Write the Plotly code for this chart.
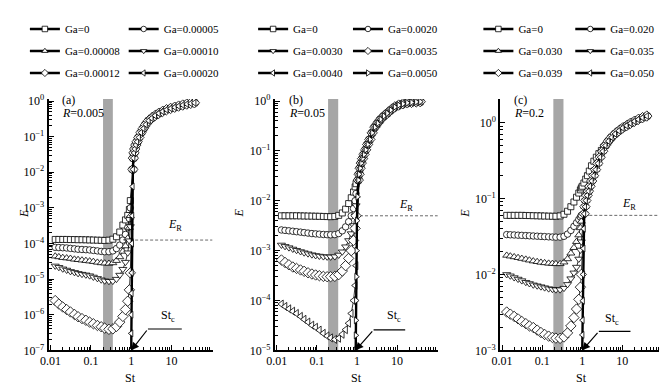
import math
import plotly.graph_objects as go

W, H = 667, 389
FONT = "Liberation Serif, Times New Roman, serif"

# ---------------- data ----------------
ST_LEFT = [0.013, 0.016, 0.02, 0.025, 0.031, 0.039, 0.048, 0.06, 0.075, 0.093, 0.115,
           0.145, 0.18, 0.22, 0.28, 0.35, 0.43, 0.52, 0.62, 0.72, 0.82, 0.9, 0.95]

# panel (a), R = 0.005
GA_A = ["Ga=0", "Ga=0.00005", "Ga=0.00008", "Ga=0.00010", "Ga=0.00012", "Ga=0.00020"]
E_A0_L = [1.30e-4, 1.30e-4, 1.30e-4, 1.30e-4, 1.29e-4, 1.29e-4, 1.28e-4, 1.28e-4, 1.27e-4, 1.26e-4, 1.25e-4,
          1.24e-4, 1.23e-4, 1.22e-4, 1.24e-4, 1.32e-4, 1.55e-4, 2.1e-4, 3.3e-4, 4.6e-4, 6.2e-4, 9.0e-4, 1.6e-3]
E_A1_L = [7.8e-5, 7.7e-5, 7.6e-5, 7.5e-5, 7.3e-5, 7.1e-5, 6.9e-5, 6.8e-5, 6.7e-5, 6.6e-5, 6.4e-5,
          6.2e-5, 6.0e-5, 5.9e-5, 5.9e-5, 6.2e-5, 7.2e-5, 9.0e-5, 1.25e-4, 1.8e-4, 2.8e-4, 5.0e-4, 1.0e-3]
E_A2_L = [4.4e-5, 4.2e-5, 4.0e-5, 3.9e-5, 3.8e-5, 3.6e-5, 3.5e-5, 3.4e-5, 3.3e-5, 3.2e-5, 3.1e-5,
          2.95e-5, 2.85e-5, 2.8e-5, 2.75e-5, 2.85e-5, 3.3e-5, 4.2e-5, 6.0e-5, 8.5e-5, 1.4e-4, 2.8e-4, 6.0e-4]
E_A3_L = [2.35e-5, 2.15e-5, 1.95e-5, 1.8e-5, 1.65e-5, 1.55e-5, 1.45e-5, 1.38e-5, 1.32e-5, 1.25e-5, 1.15e-5,
          1.05e-5, 9.6e-6, 9.0e-6, 8.7e-6, 8.8e-6, 1.0e-5, 1.3e-5, 1.9e-5, 3.0e-5, 5.5e-5, 1.2e-4, 3.0e-4]
E_A4_L = [2.5e-6, 2.0e-6, 1.65e-6, 1.4e-6, 1.2e-6, 1.02e-6, 8.8e-7, 7.8e-7, 7.0e-7, 6.2e-7, 5.6e-7,
          5.0e-7, 4.6e-7, 4.2e-7, 3.9e-7, 4.0e-7, 4.7e-7, 6.2e-7, 9.0e-7, 1.4e-6, 2.4e-6, 5.0e-6, 1.5e-5]
ST_STEEP_A = [1.0, 1.005, 1.01, 1.02, 1.03, 1.045, 1.06, 1.08]
E_STEEP_A = [1e-7, 3e-7, 1e-6, 4e-6, 1.5e-5, 1e-4, 6e-4, 4e-3]
ST_UP_A = [1.1, 1.13, 1.17, 1.22, 1.3, 1.4, 1.55, 1.75, 2.0, 2.3, 2.7, 3.2, 3.9, 4.8, 6.0, 7.5, 9.5,
           12, 15, 19, 24, 30, 37]
E_UP_A = [0.012, 0.025, 0.035, 0.045, 0.058, 0.072, 0.095, 0.13, 0.17, 0.22, 0.28, 0.33, 0.39, 0.45,
          0.51, 0.57, 0.62, 0.67, 0.72, 0.77, 0.82, 0.86, 0.89]
ER_A = 1.25e-4

# panel (b), R = 0.05
GA_B = ["Ga=0", "Ga=0.0020", "Ga=0.0030", "Ga=0.0035", "Ga=0.0040", "Ga=0.0050"]
E_B0_L = [5.0e-3, 5.0e-3, 5.0e-3, 5.0e-3, 5.0e-3, 4.98e-3, 4.96e-3, 4.94e-3, 4.92e-3, 4.9e-3, 4.88e-3,
          4.85e-3, 4.82e-3, 4.8e-3, 4.85e-3, 5.1e-3, 5.7e-3, 6.8e-3, 8.8e-3, 1.15e-2, 1.5e-2, 1.9e-2, 2.2e-2]
E_B1_L = [2.6e-3, 2.55e-3, 2.5e-3, 2.45e-3, 2.4e-3, 2.35e-3, 2.3e-3, 2.25e-3, 2.2e-3, 2.17e-3, 2.14e-3,
          2.11e-3, 2.09e-3, 2.08e-3, 2.1e-3, 2.2e-3, 2.5e-3, 3.0e-3, 3.8e-3, 5.0e-3, 7.0e-3, 1.0e-2, 1.4e-2]
E_B2_L = [1.3e-3, 1.22e-3, 1.15e-3, 1.08e-3, 1.02e-3, 9.6e-4, 9.1e-4, 8.7e-4, 8.3e-4, 8.0e-4, 7.8e-4,
          7.6e-4, 7.5e-4, 7.5e-4, 7.6e-4, 8.2e-4, 9.5e-4, 1.2e-3, 1.6e-3, 2.2e-3, 3.2e-3, 5.0e-3, 8.0e-3]
E_B3_L = [6.5e-4, 5.8e-4, 5.2e-4, 4.7e-4, 4.4e-4, 4.1e-4, 3.85e-4, 3.6e-4, 3.4e-4, 3.25e-4, 3.15e-4,
          3.05e-4, 3.0e-4, 3.0e-4, 3.05e-4, 3.3e-4, 3.9e-4, 5.0e-4, 7.0e-4, 1.0e-3, 1.6e-3, 2.8e-3, 5.0e-3]
E_B4_L = [8.5e-5, 7.6e-5, 6.8e-5, 6.1e-5, 5.5e-5, 4.8e-5, 4.2e-5, 3.7e-5, 3.2e-5, 2.9e-5, 2.55e-5,
          2.2e-5, 1.95e-5, 1.78e-5, 1.66e-5, 1.75e-5, 2.1e-5, 2.6e-5, 3.5e-5, 5.5e-5, 1.0e-4, 2.0e-4, 5.0e-4]
ST_STEEP_B = [0.93, 0.935, 0.94, 0.95, 0.965, 0.98, 1.0, 1.03]
E_STEEP_B = [1e-5, 2e-5, 4e-5, 1e-4, 3e-4, 1e-3, 4e-3, 1.2e-2]
ST_UP_B = [1.08, 1.13, 1.2, 1.28, 1.38, 1.5, 1.65, 1.85, 2.1, 2.4, 2.8, 3.3, 3.9, 4.7, 5.7, 7.0, 8.8,
           11, 14, 18, 23, 30, 38]
E_UP_B = [0.026, 0.034, 0.045, 0.057, 0.07, 0.085, 0.105, 0.135, 0.17, 0.23, 0.3, 0.36, 0.43, 0.5,
          0.57, 0.66, 0.76, 0.83, 0.88, 0.92, 0.94, 0.96, 0.97]
ER_B = 5.0e-3

# panel (c), R = 0.2
GA_C = ["Ga=0", "Ga=0.020", "Ga=0.030", "Ga=0.035", "Ga=0.039", "Ga=0.050"]
E_C0_L = [0.060, 0.060, 0.060, 0.060, 0.060, 0.0598, 0.0596, 0.0594, 0.0592, 0.059, 0.0588,
          0.0586, 0.0584, 0.0584, 0.059, 0.062, 0.068, 0.078, 0.09, 0.104, 0.118, 0.13, 0.138]
ST_C0_R = [1.0, 1.1, 1.22, 1.35, 1.5, 1.7, 1.95, 2.25, 2.6, 3.0, 3.4]
E_C0_R = [0.145, 0.16, 0.18, 0.2, 0.23, 0.27, 0.31, 0.35, 0.39, 0.43, 0.47]
E_C1_L = [0.0335, 0.0333, 0.0331, 0.0329, 0.0327, 0.0325, 0.0323, 0.0321, 0.0319, 0.0317, 0.0315,
          0.0313, 0.0311, 0.031, 0.031, 0.0318, 0.034, 0.038, 0.043, 0.048, 0.053, 0.057, 0.06]
E_C2_L = [0.0178, 0.0174, 0.017, 0.0166, 0.0162, 0.0158, 0.0154, 0.015, 0.0147, 0.0144, 0.0142,
          0.014, 0.0139, 0.0138, 0.0138, 0.0145, 0.016, 0.019, 0.0225, 0.027, 0.033, 0.041, 0.05]
E_C3_L = [0.0100, 0.0096, 0.0091, 0.0087, 0.0083, 0.0079, 0.0076, 0.0073, 0.0071, 0.0069, 0.0067,
          0.0065, 0.0064, 0.0063, 0.0063, 0.0066, 0.0074, 0.0088, 0.0105, 0.0125, 0.016, 0.021, 0.027]
E_C4_L = [0.0032, 0.0030, 0.0028, 0.0026, 0.0024, 0.00225, 0.0021, 0.0020, 0.00185, 0.00172, 0.00162,
          0.00154, 0.00148, 0.00145, 0.00144, 0.0015, 0.0017, 0.0021, 0.0027, 0.0035, 0.0047, 0.0068, 0.010]
ST_STEEP_C = [1.0, 1.01, 1.02, 1.035, 1.05, 1.07, 1.09]
E_STEEP_C = [1e-3, 1.6e-3, 2.5e-3, 4.5e-3, 0.01, 0.022, 0.04]
ST_UP_C = [1.12, 1.17, 1.23, 1.32, 1.43, 1.56, 1.72, 1.92, 2.15, 2.45, 2.8, 3.25, 3.8, 4.5, 5.4,
           6.6, 8.2, 10.2, 12.8, 16, 20, 25, 32, 41]
E_UP_C = [0.063, 0.078, 0.094, 0.11, 0.125, 0.145, 0.17, 0.2, 0.24, 0.29, 0.35, 0.42, 0.5, 0.57,
          0.64, 0.71, 0.78, 0.85, 0.91, 0.98, 1.04, 1.1, 1.16, 1.22]
ER_C = 0.06

X_TICKS = [0.01, 0.1, 1, 10]
X_TICKTEXT = ["0.01", "0.1", "1", "10"]

# ---------------- helpers ----------------
def pxx(p):
    return p / W


def pxy(p):
    return 1 - p / H


def ylabels(lo, hi):
    vals = [10.0 ** k for k in range(lo, hi + 1)]
    txt = ["10<sup>%s</sup>" % (str(k).replace("-", "\u2212")) for k in range(lo, hi + 1)]
    return vals, txt


def minor_vals(lo, hi):
    out = []
    for d in range(lo, hi + 1):
        for k in range(2, 10):
            out.append(k * 10.0 ** d)
    return out


SYMS_A = ["square", "circle", "triangle-up", "triangle-down", "diamond", "triangle-left"]
SYMS_B = ["square", "circle", "triangle-down", "diamond", "triangle-left", "triangle-right"]
SYMS_C = ["square", "circle", "triangle-up", "triangle-down", "diamond", "triangle-left"]
SIZES = {"square": 6, "circle": 6.5, "triangle-up": 7, "triangle-down": 7, "diamond": 8,
         "triangle-left": 7, "triangle-right": 7}
TXT = dict(family=FONT, size=12, color="black")
LEG_TXT = dict(family=FONT, size=11, color="black")

panels = [
    dict(k="a", xa="x", ya="y", names=GA_A, syms=SYMS_A,
         curves=[(ST_LEFT + ST_UP_A, E_A0_L + E_UP_A),
                 (ST_LEFT + ST_UP_A, E_A1_L + E_UP_A),
                 (ST_LEFT + ST_UP_A, E_A2_L + E_UP_A),
                 (ST_LEFT + ST_UP_A, E_A3_L + E_UP_A),
                 (ST_LEFT + ST_UP_A, E_A4_L + E_UP_A),
                 (ST_STEEP_A + ST_UP_A, E_STEEP_A + E_UP_A)],
         xdom=(33, 199), yr=(-7, 0.055), ylo=-7, yhi=0, er=ER_A, er_x0=1.25, band=(0.2, 0.35),
         er_lab=(12.2, 15), stc=dict(head=(0.0, -7.0), tail=(2.6, -6.40), end=18.0, txt=(8.2, -6.04)),
         lab="(a)", R="0.005", ttl_x=8, legx=(9, 109)),
    dict(k="b", xa="x2", ya="y2", names=GA_B, syms=SYMS_B,
         curves=[(ST_LEFT + ST_UP_B, E_B0_L + E_UP_B),
                 (ST_LEFT + ST_UP_B, E_B1_L + E_UP_B),
                 (ST_LEFT + ST_UP_B, E_B2_L + E_UP_B),
                 (ST_LEFT + ST_UP_B, E_B3_L + E_UP_B),
                 (ST_LEFT + ST_UP_B, E_B4_L + E_UP_B),
                 (ST_STEEP_B + ST_UP_B, E_STEEP_B + E_UP_B)],
         xdom=(262, 427), yr=(-5, 0.04), ylo=-5, yhi=0, er=ER_B, er_x0=1.19, band=(0.19, 0.34),
         er_lab=(17, 11), stc=dict(head=(math.log10(0.92), -5.0), tail=(2.6, -4.59), end=16.0, txt=(8.2, -4.32)),
         lab="(b)", R="0.05", ttl_x=226, legx=(240, 336)),
    dict(k="c", xa="x3", ya="y3", names=GA_C, syms=SYMS_C,
         curves=[(ST_LEFT + ST_C0_R + [s for s in ST_UP_C if s > 3.5],
                  E_C0_L + E_C0_R + [e for s, e in zip(ST_UP_C, E_UP_C) if s > 3.5]),
                 (ST_LEFT + ST_UP_C, E_C1_L + E_UP_C),
                 (ST_LEFT + ST_UP_C, E_C2_L + E_UP_C),
                 (ST_LEFT + ST_UP_C, E_C3_L + E_UP_C),
                 (ST_LEFT + ST_UP_C, E_C4_L + E_UP_C),
                 (ST_STEEP_C + ST_UP_C, E_STEEP_C + E_UP_C)],
         xdom=(490, 655), yr=(-3, 0.31), ylo=-3, yhi=0, er=ER_C, er_x0=1.5, band=(0.19, 0.34),
         er_lab=(14.5, 11), stc=dict(head=(0.0, -3.0), tail=(2.6, -2.75), end=16.0, txt=(5.5, -2.59)),
         lab="(c)", R="0.2", ttl_x=455, legx=(468, 561)),
]

fig = go.Figure()
layout = dict(width=W, height=H, margin=dict(l=0, r=0, t=0, b=0),
              paper_bgcolor="white", plot_bgcolor="white",
              font=TXT, showlegend=True)
shapes, annos = [], []
Y_DOM = [pxy(348), pxy(88)]

leg_idx = 0
for pi, p in enumerate(panels):
    xa, ya = p["xa"], p["ya"]
    # data traces
    for ci, (xs, ys) in enumerate(p["curves"]):
        sym = p["syms"][ci]
        steep = ci == 5
        fig.add_trace(go.Scatter(
            x=xs, y=ys, mode="lines+markers", xaxis=xa, yaxis=ya, showlegend=False,
            line=dict(color="black", width=2.4 if steep else 0.8),
            marker=dict(symbol=sym, size=SIZES[sym] - (1 if steep else 0), color="white",
                        line=dict(color="black", width=0.8)),
            hoverinfo="skip"))
    # legend entries (two columns)
    l1 = "legend" if leg_idx == 0 else "legend%d" % (leg_idx + 1)
    l2 = "legend%d" % (leg_idx + 2)
    for ci, nm in enumerate(p["names"]):
        sym = p["syms"][ci]
        lg = l1 if ci % 2 == 0 else l2
        fig.add_trace(go.Scatter(
            x=[None], y=[None], mode="lines+markers", xaxis=xa, yaxis=ya, name=nm,
            legend=lg, legendgroup="%s%d" % (p["k"], ci),
            line=dict(color="black", width=2.6),
            marker=dict(symbol=sym, size=5.5, color="white", line=dict(color="black", width=0.8))))
    for lg, lx in ((l1, p["legx"][0]), (l2, p["legx"][1])):
        layout[lg] = dict(x=pxx(lx), y=pxy(0.5), xanchor="left", yanchor="top",
                          bgcolor="rgba(0,0,0,0)", borderwidth=0, tracegroupgap=3,
                          traceorder="grouped", font=LEG_TXT)
    leg_idx += 2

    sfx = "" if pi == 0 else str(pi + 1)
    yv, yt = ylabels(p["ylo"], p["yhi"])
    layout["xaxis" + sfx] = dict(
        type="log", range=[-2.05, 2.02], domain=[pxx(p["xdom"][0]), pxx(p["xdom"][1])],
        anchor=ya, tickvals=X_TICKS, ticktext=X_TICKTEXT, ticks="inside", ticklen=5, tickwidth=1.2,
        tickcolor="black", showline=True, linewidth=1.8, linecolor="black", showgrid=False,
        zeroline=False, tickfont=TXT, ticklabelstandoff=-2,
        minor=dict(ticks="inside", ticklen=3, tickwidth=1, tickcolor="black",
                   tickvals=minor_vals(-3, 1), showgrid=False))
    layout["yaxis" + sfx] = dict(
        type="log", range=list(p["yr"]), domain=Y_DOM, anchor=xa,
        tickvals=yv, ticktext=yt, ticks="inside", ticklen=5, tickwidth=1.2, tickcolor="black",
        showline=True, linewidth=1.8, linecolor="black", showgrid=False, zeroline=False,
        tickfont=TXT,
        minor=dict(ticks="inside", ticklen=3, tickwidth=1, tickcolor="black",
                   tickvals=minor_vals(p["ylo"] - 1, p["yhi"]), showgrid=False))

    # gray band
    shapes.append(dict(type="rect", xref=xa, yref=ya + " domain", x0=p["band"][0], x1=p["band"][1],
                       y0=0, y1=1, fillcolor="#a6a6a6", line=dict(width=0), layer="below"))
    # E_R dashed line
    shapes.append(dict(type="line", xref=xa, yref=ya, x0=p["er_x0"], x1=104, y0=p["er"], y1=p["er"],
                       line=dict(color="#444444", width=0.8, dash="3px,2px"), layer="below"))
    annos.append(dict(xref=xa, yref=ya, x=math.log10(p["er_lab"][0]), y=math.log10(p["er"]),
                      xanchor="center", yanchor="middle",
                      yshift=p["er_lab"][1], text="<i>E</i><sub>R</sub>", showarrow=False, font=TXT))
    # St_c annotation
    st = p["stc"]
    ty = 10 ** st["tail"][1]
    shapes.append(dict(type="line", xref=xa, yref=ya, x0=st["tail"][0], x1=st["end"], y0=ty, y1=ty,
                       line=dict(color="black", width=1.2)))
    annos.append(dict(xref=xa, yref=ya, x=st["head"][0], y=st["head"][1],
                      axref=xa, ayref=ya, ax=math.log10(st["tail"][0]), ay=st["tail"][1],
                      text="", showarrow=True, arrowhead=2, arrowsize=1.3, arrowwidth=1.2,
                      arrowcolor="black", standoff=0, startstandoff=0))
    annos.append(dict(xref=xa, yref=ya, x=math.log10(st["txt"][0]), y=st["txt"][1],
                      xanchor="center", yanchor="middle",
                      text="St<sub>c</sub>", showarrow=False, font=TXT))
    # panel label + R
    x0 = pxx(p["xdom"][0] + 12)
    annos.append(dict(xref="paper", yref="paper", x=x0, y=pxy(89), xanchor="left", yanchor="middle",
                      text=p["lab"], showarrow=False, font=TXT))
    annos.append(dict(xref="paper", yref="paper", x=x0, y=pxy(102), xanchor="left", yanchor="middle",
                      text="<i>R</i>=" + p["R"], showarrow=False, font=TXT))
    # axis titles
    annos.append(dict(xref="paper", yref="paper", x=pxx((p["xdom"][0] + p["xdom"][1]) / 2), y=pxy(377),
                      xanchor="center", yanchor="middle",
                      text="St", showarrow=False, font=TXT))
    annos.append(dict(xref="paper", yref="paper", x=pxx(p["ttl_x"]), y=pxy(206), textangle=-90,
                      xanchor="center", yanchor="middle",
                      text="<i>E</i>", showarrow=False, font=TXT))

layout["shapes"] = shapes
layout["annotations"] = annos
fig.update_layout(**layout)
fig.write_html("out.html")
